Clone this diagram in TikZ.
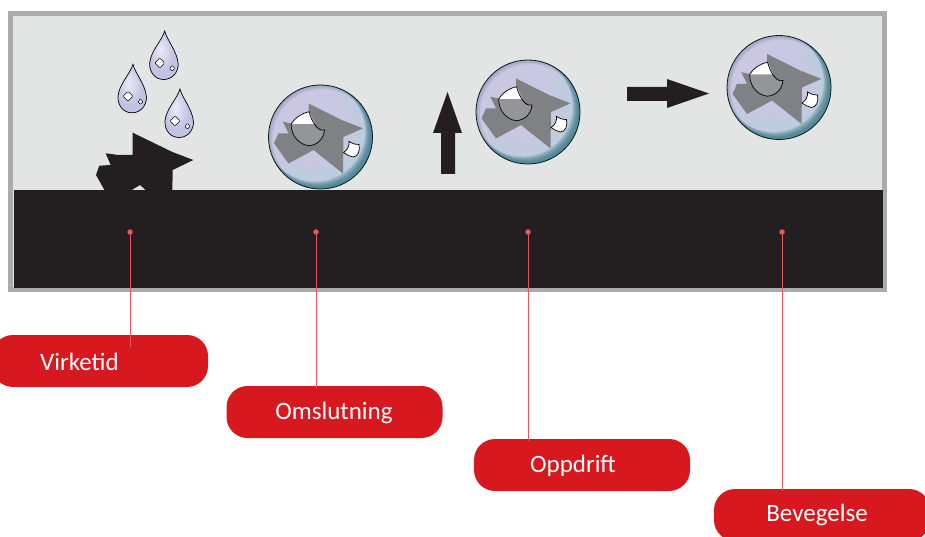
\documentclass[tikz,border=0pt]{standalone}
\usepackage{fontspec}
\setmainfont{Carlito}
\definecolor{framegrey}{HTML}{A9ABAD}
\definecolor{panelgrey}{HTML}{E3E4E4}
\definecolor{inkblack}{HTML}{231F20}
\definecolor{labelred}{HTML}{D7181F}
\definecolor{linkred}{HTML}{E9565C}
\definecolor{stargrey}{HTML}{808184}
\definecolor{innergrey}{HTML}{939598}
\definecolor{rimteal}{HTML}{2F6F7C}
\definecolor{rimgrey}{HTML}{8E93A6}
\pgfdeclareradialshading{bubbleshade}{\pgfpoint{-9bp}{9bp}}{
  rgb(0bp)=(0.80,0.78,0.89);
  rgb(16bp)=(0.79,0.78,0.89);
  rgb(34bp)=(0.72,0.81,0.86);
  rgb(50bp)=(0.67,0.81,0.84);
  rgb(100bp)=(0.67,0.81,0.84)}
\pgfdeclareradialshading{dropshade}{\pgfpoint{-6bp}{6bp}}{
  rgb(0bp)=(0.92,0.92,0.97);
  rgb(22bp)=(0.76,0.76,0.89);
  rgb(42bp)=(0.72,0.80,0.88);
  rgb(100bp)=(0.60,0.75,0.82)}
\tikzset{
  labelbox/.style={fill=labelred,rounded corners=21pt,minimum width=216pt,minimum height=52pt,inner sep=0pt},
  labeltext/.style={text=white,font=\fontsize{25}{28}\selectfont},
  linkdot/.style={circle,fill=linkred,minimum size=5.5pt,inner sep=0pt},
  linkline/.style={draw=linkred,line width=0.9pt},
  bigarrow/.style={fill=inkblack,draw=none},
  thinink/.style={draw=black,line width=0.7pt},
  dropball/.pic={
    \draw[thinink,shading=dropshade] (0,0)
      .. controls (2,9) and (12.5,20) .. (13.5,33)
      .. controls (13.5,42) and (7,48.5) .. (-1,48.5)
      .. controls (-9,48.5) and (-15.5,42) .. (-15,32)
      .. controls (-14,20) and (-3,10) .. (0,0) -- cycle;
    \draw[draw=black,line width=0.5pt,fill=white,rounded corners=1pt] (-5,27) -- (0,32) -- (-5,37) -- (-10,32) -- cycle;
    \draw[draw=black,line width=0.5pt,fill=white,rounded corners=0.5pt] (7.5,34.5) -- (10,37.5) -- (7.5,40) -- (5,37.5) -- cycle;
  },
  bubbleball/.pic={
    \shade[shading=bubbleshade] (0,0) circle (52);
    \begin{scope}
      \clip (0,0) circle (52);
      \foreach \s in {1,2,...,7} {
        \fill[rimteal,fill opacity=0.16,even odd rule] (0,0) circle (53) (-\s*0.55-1.5,-\s*0.55-1.5) circle (52-\s*0.3);
        \fill[rimgrey,fill opacity=0.12,even odd rule] (0,0) circle (53) (\s*0.3,\s*0.3) circle (52-\s*0.3);
      }
    \end{scope}
    \draw[draw=black!75!teal,line width=0.8pt] (0,0) circle (52);
    \fill[stargrey] (-12,-33.5) -- (21,-17) -- (42.5,-8.7) -- (23,0) -- (22.5,36.5)
      -- (-7,13) -- (-32,26.5) -- (-46.5,6.3) -- (-42,-3.7) -- (-32,-3.7) -- (-37.7,-15.3) -- (-27,-13) -- (-12,-18) -- cycle;
    \path[fill=innergrey] (-11.5,-25.3) .. controls (-8,-15) and (-6,-5) .. (4,-7)
      .. controls (3,2) and (-3,8) .. (-11.5,8.7)
      .. controls (-20,8) and (-29.5,0) .. (-29.3,-13)
      .. controls (-25,-20) and (-18,-24) .. (-11.5,-25.3) -- cycle;
    \fill[white] (-11.5,-25.3) .. controls (-18,-24) and (-25,-20) .. (-29.3,-13) -- (-12,-13) -- (-5.5,-13) .. controls (-8,-17) and (-9,-21) .. (-11.5,-25.3) -- cycle;
    \draw[thinink] (-11.5,-25.3) .. controls (-9,-16) and (-3,-5) .. (4,-7)
      .. controls (3,2) and (-3,8) .. (-11.5,8.7)
      .. controls (-20,8) and (-29.5,0) .. (-29.3,-13)
      .. controls (-25,-20) and (-18,-24) .. (-11.5,-25.3) -- cycle;
    \draw[fill=white,thinink] (28.5,4.5) .. controls (33,7) and (36,8) .. (38.5,7.5)
      .. controls (40,14) and (37,20) .. (32.5,20)
      .. controls (29,19.5) and (26,17.5) .. (23,15.5)
      .. controls (27,13) and (29,9) .. (28.5,4.5) -- cycle;
  }
}
\begin{document}
\begin{tikzpicture}[x=1pt,y=-1pt]
\useasboundingbox (0,0) rectangle (925,537);
\fill[white] (0,0) rectangle (925,537);
% frame and panel
\draw[draw=framegrey,fill=panelgrey,line width=5pt] (10.5,13.5) rectangle (884.5,289.5);
\fill[inkblack] (13.5,190) rectangle (882.5,288);
% debris
\fill[inkblack] (132.7,132.7) -- (171.7,151.7) -- (193.3,160) -- (172.7,170) -- (172.3,191) -- (146.7,191) -- (140,185) -- (130,191) -- (105,191)
  -- (96,175) -- (99.3,165.7) -- (110.7,165) -- (105.7,153.3) -- (118.3,155) -- (132.7,155) -- cycle;
% drops
\pic at (164.7,31) {dropball};
\pic at (133,64.3) {dropball};
\pic at (180,89) {dropball};
% bubbles
\pic at (320.5,137) {bubbleball};
\pic at (528,112) {bubbleball};
\pic at (779,87.5) {bubbleball};
% arrows
\fill[bigarrow] (441,174) -- (441,133) -- (433,133) -- (447.5,92) -- (462,133) -- (455,133) -- (455,174) -- cycle;
\fill[bigarrow] (627,87) -- (667,87) -- (667,79) -- (709,93.5) -- (667,108) -- (667,101) -- (627,101) -- cycle;
% labels
\clip (0,0) rectangle (925,537);
\node[labelbox] (lab1) at (100,361) {};
\node[labelbox] (lab2) at (334.5,412) {};
\node[labelbox] (lab3) at (582,465) {};
\node[labelbox] (lab4) at (822,515) {};
\node[labeltext] (txt1) at (79.5,362) {Virketid};
\node[labeltext] (txt2) at (334,412.5) {Omslutning};
\node[labeltext] (txt3) at (573,465.5) {Oppdrift};
\node[labeltext] (txt4) at (817,514.5) {Bevegelse};
% connectors
\node[linkdot] (dot1) at (130,232) {};
\node[linkdot] (dot2) at (316,232) {};
\node[linkdot] (dot3) at (528,232) {};
\node[linkdot] (dot4) at (782,232) {};
\coordinate (end1) at (130,347);
\coordinate (end2) at (316,388);
\coordinate (end3) at (528,441);
\coordinate (end4) at (782,491);
\draw[linkline] (dot1.center) -- (end1);
\draw[linkline] (dot2.center) -- (end2);
\draw[linkline] (dot3.center) -- (end3);
\draw[linkline] (dot4.center) -- (end4);
\end{tikzpicture}
\end{document}
